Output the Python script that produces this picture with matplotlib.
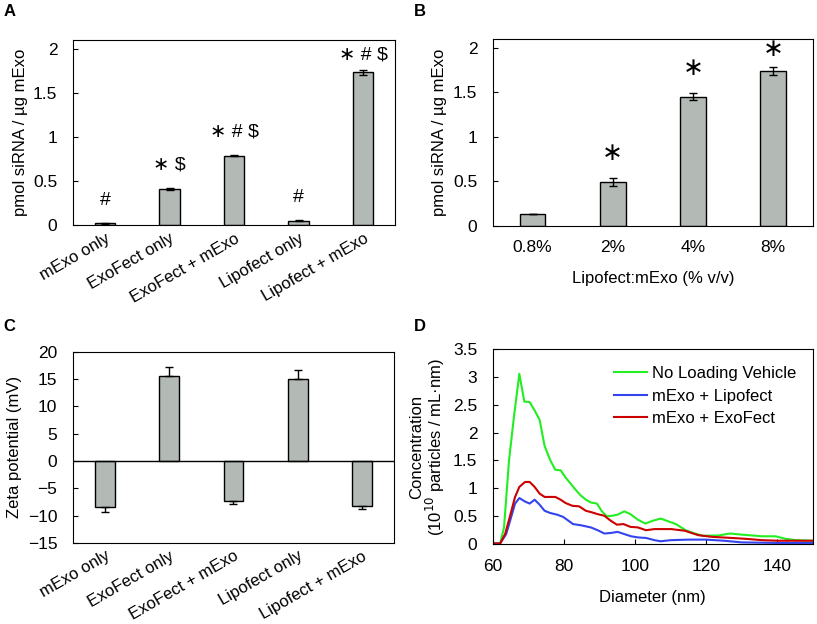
import numpy as np
import matplotlib
matplotlib.use("Agg")
import matplotlib.pyplot as plt
from matplotlib.ticker import FuncFormatter

plt.rcParams['font.family'] = ['Liberation Sans', 'DejaVu Sans']
plt.rcParams['font.size'] = 12

# ---- datos panel A
grupos = ['mExo only', 'ExoFect only', 'ExoFect + mExo', 'Lipofect only', 'Lipofect + mExo']
carga = [0.02, 0.41, 0.79, 0.05, 1.735]
carga_err = [0.005, 0.015, 0.01, 0.005, 0.03]
signos = ['#', '\u2217 $', '\u2217 # $', '#', '\u2217 # $']

# ---- datos panel B
ratio = ['0.8%', '2%', '4%', '8%']
carga_ratio = [0.13, 0.49, 1.45, 1.74]
carga_ratio_err = [0.0, 0.045, 0.04, 0.045]
signos_ratio = ['', '\u2217', '\u2217', '\u2217']

# ---- datos panel C
zeta = [-8.5, 15.6, -7.3, 15.0, -8.3]
zeta_err = [0.9, 1.6, 0.5, 1.6, 0.55]

# ---- datos panel D (NTA)
d_verde = [60, 62.1, 63.2, 64.6, 66.1, 67.5, 68.9, 70.4, 71.8, 73.2, 74.6, 76.2, 77.6, 79.1,
           80.5, 81.9, 83.3, 84.7, 86.2, 87.6, 89.3, 90.7, 92.1, 93.5, 95.1, 97.0, 98.7,
           100.8, 102.9, 105.0, 107.2, 111.5, 114.2, 116.8, 119.2, 123.5, 126.7, 130.0,
           132.9, 135.7, 139.5, 142.3, 145.2, 150]
c_verde = [0, 0, 0.29, 1.5, 2.35, 3.06, 2.56, 2.55, 2.4, 2.23, 1.76, 1.5, 1.33, 1.32,
           1.19, 1.08, 0.97, 0.87, 0.79, 0.74, 0.72, 0.58, 0.49, 0.5, 0.52, 0.58, 0.53,
           0.43, 0.36, 0.41, 0.45, 0.35, 0.24, 0.18, 0.14, 0.145, 0.18, 0.16,
           0.145, 0.13, 0.13, 0.085, 0.06, 0.05]

d_azul = [60, 62.1, 63.8, 64.9, 66.3, 67.5, 69.0, 70.4, 71.8, 73.2, 74.6, 76.2, 78.1, 79.8,
          81.1, 82.6, 84.7, 87.6, 89.5, 91.4, 93.2, 95.1, 97.0, 98.9, 100.8, 103.1, 105.5,
          107.2, 110, 115, 120, 125, 130, 140, 150]
c_azul = [0, 0, 0.17, 0.41, 0.72, 0.82, 0.76, 0.72, 0.79, 0.70, 0.59, 0.55, 0.52, 0.48,
          0.42, 0.35, 0.33, 0.29, 0.24, 0.18, 0.19, 0.21, 0.17, 0.13, 0.11, 0.10, 0.06,
          0.04, 0.06, 0.07, 0.07, 0.05, 0.02, 0.01, 0.01]

d_rojo = [60, 62.1, 63.5, 64.9, 66.3, 67.5, 69.1, 70.4, 71.8, 73.2, 74.6, 77.6, 79.1, 80.5,
          82.4, 84.3, 86.2, 88.0, 89.5, 91.4, 93.2, 94.9, 96.8, 98.7, 100.8, 103.1, 105.5,
          110.2, 114, 117.8, 121.6, 127.2, 131, 135.7, 140.4, 150]
c_rojo = [0, 0, 0.17, 0.5, 0.84, 1.02, 1.11, 1.11, 1.02, 0.9, 0.84, 0.84, 0.79, 0.73,
          0.68, 0.67, 0.59, 0.56, 0.53, 0.5, 0.41, 0.34, 0.35, 0.3, 0.29, 0.24, 0.26,
          0.26, 0.23, 0.15, 0.12, 0.10, 0.085, 0.06, 0.05, 0.05]

gris = '#b3b9b5'
fmt_g = FuncFormatter(lambda v, p: f'{v:g}')
tam_ticks = 12.5

fig = plt.figure(figsize=(8.17, 6.24), dpi=100)

# ------------------------------------------------------------------ A
axA = fig.add_axes([0.089, 0.639, 0.395, 0.297])
x = np.arange(len(grupos))
axA.bar(x, carga, width=0.32, color=gris, edgecolor='black', linewidth=1,
        yerr=carga_err, capsize=3, error_kw=dict(elinewidth=1, capthick=1))
for i, s in enumerate(signos):
    yy = min(carga[i] + carga_err[i] + 0.16, 1.83)
    axA.text(x[i], yy, s, ha='center', va='bottom', fontsize=14)
axA.set_xlim(-0.5, 4.5)
axA.set_ylim(0, 2.1)
axA.set_yticks([0, 0.5, 1, 1.5, 2])
axA.yaxis.set_major_formatter(fmt_g)
axA.set_xticks(x)
axA.set_xticklabels(grupos, rotation=30, ha='right', rotation_mode='anchor')
axA.tick_params(axis='x', length=0, pad=4)
axA.tick_params(axis='y', direction='in', labelsize=tam_ticks, pad=11)
axA.set_ylabel('pmol siRNA / µg mExo')

# ------------------------------------------------------------------ B
axB = fig.add_axes([0.603, 0.638, 0.392, 0.2995])
xb = np.arange(len(ratio))
axB.bar(xb, carga_ratio, width=0.32, color=gris, edgecolor='black', linewidth=1,
        yerr=carga_ratio_err, capsize=3, error_kw=dict(elinewidth=1, capthick=1))
for i, s in enumerate(signos_ratio):
    yy = min(carga_ratio[i] + carga_ratio_err[i] + 0.15, 1.85)
    axB.text(xb[i], yy, s, ha='center', va='bottom', fontsize=18)
axB.set_xlim(-0.5, 3.5)
axB.set_ylim(0, 2.1)
axB.set_yticks([0, 0.5, 1, 1.5, 2])
axB.yaxis.set_major_formatter(fmt_g)
axB.set_xticks(xb)
axB.set_xticklabels(ratio)
axB.tick_params(axis='x', length=0, pad=10, labelsize=tam_ticks)
axB.tick_params(axis='y', direction='in', labelsize=tam_ticks, pad=11)
axB.set_ylabel('pmol siRNA / µg mExo')
axB.set_xlabel('Lipofect:mExo (% v/v)', labelpad=12)

# ------------------------------------------------------------------ C
axC = fig.add_axes([0.089, 0.130, 0.3936, 0.3064])
xc = np.arange(len(grupos))
abajo = [e if v < 0 else 0 for v, e in zip(zeta, zeta_err)]
arriba = [e if v > 0 else 0 for v, e in zip(zeta, zeta_err)]
axC.bar(xc, zeta, width=0.31, color=gris, edgecolor='black', linewidth=1,
        yerr=[abajo, arriba], capsize=3, error_kw=dict(elinewidth=1, capthick=1))
axC.axhline(0, color='black', linewidth=1)
axC.set_xlim(-0.5, 4.5)
axC.set_ylim(-15, 20)
axC.set_yticks(np.arange(-15, 21, 5))
axC.set_xticks(xc)
axC.set_xticklabels(grupos, rotation=30, ha='right', rotation_mode='anchor')
axC.tick_params(axis='x', length=0, pad=4)
axC.tick_params(axis='y', direction='in', labelsize=tam_ticks, pad=11)
axC.set_ylabel('Zeta potential (mV)')

# ------------------------------------------------------------------ D
axD = fig.add_axes([0.603, 0.129, 0.392, 0.311])
axD.plot(d_verde, c_verde, color='#22ee22', linewidth=1.5, label='No Loading Vehicle')
axD.plot(d_azul, c_azul, color='#3344ee', linewidth=1.5, label='mExo + Lipofect')
axD.plot(d_rojo, c_rojo, color='#cc0000', linewidth=1.5, label='mExo + ExoFect')
axD.set_xlim(60, 150)
axD.set_ylim(0, 3.5)
axD.set_xticks([60, 80, 100, 120, 140])
axD.set_yticks(np.arange(0, 3.6, 0.5))
axD.yaxis.set_major_formatter(fmt_g)
axD.tick_params(direction='in', labelsize=tam_ticks, pad=11)
axD.set_xlabel('Diameter (nm)', labelpad=12)
axD.set_ylabel('Concentration\n(10$^{10}$ particles / mL·nm)', fontsize=12, linespacing=1.0)
axD.legend(loc='upper right', frameon=False, fontsize=12, handlelength=2.0,
           handletextpad=0.3, borderaxespad=0.6, labelspacing=0.45)

# etiquetas de panel
for lbl, xx, yy in [('A', 0.004, 0.993), ('B', 0.506, 0.993), ('C', 0.004, 0.488), ('D', 0.506, 0.488)]:
    fig.text(xx, yy, lbl, fontsize=12, fontweight='bold', va='top', ha='left')

fig.savefig('out.png', dpi=100)
